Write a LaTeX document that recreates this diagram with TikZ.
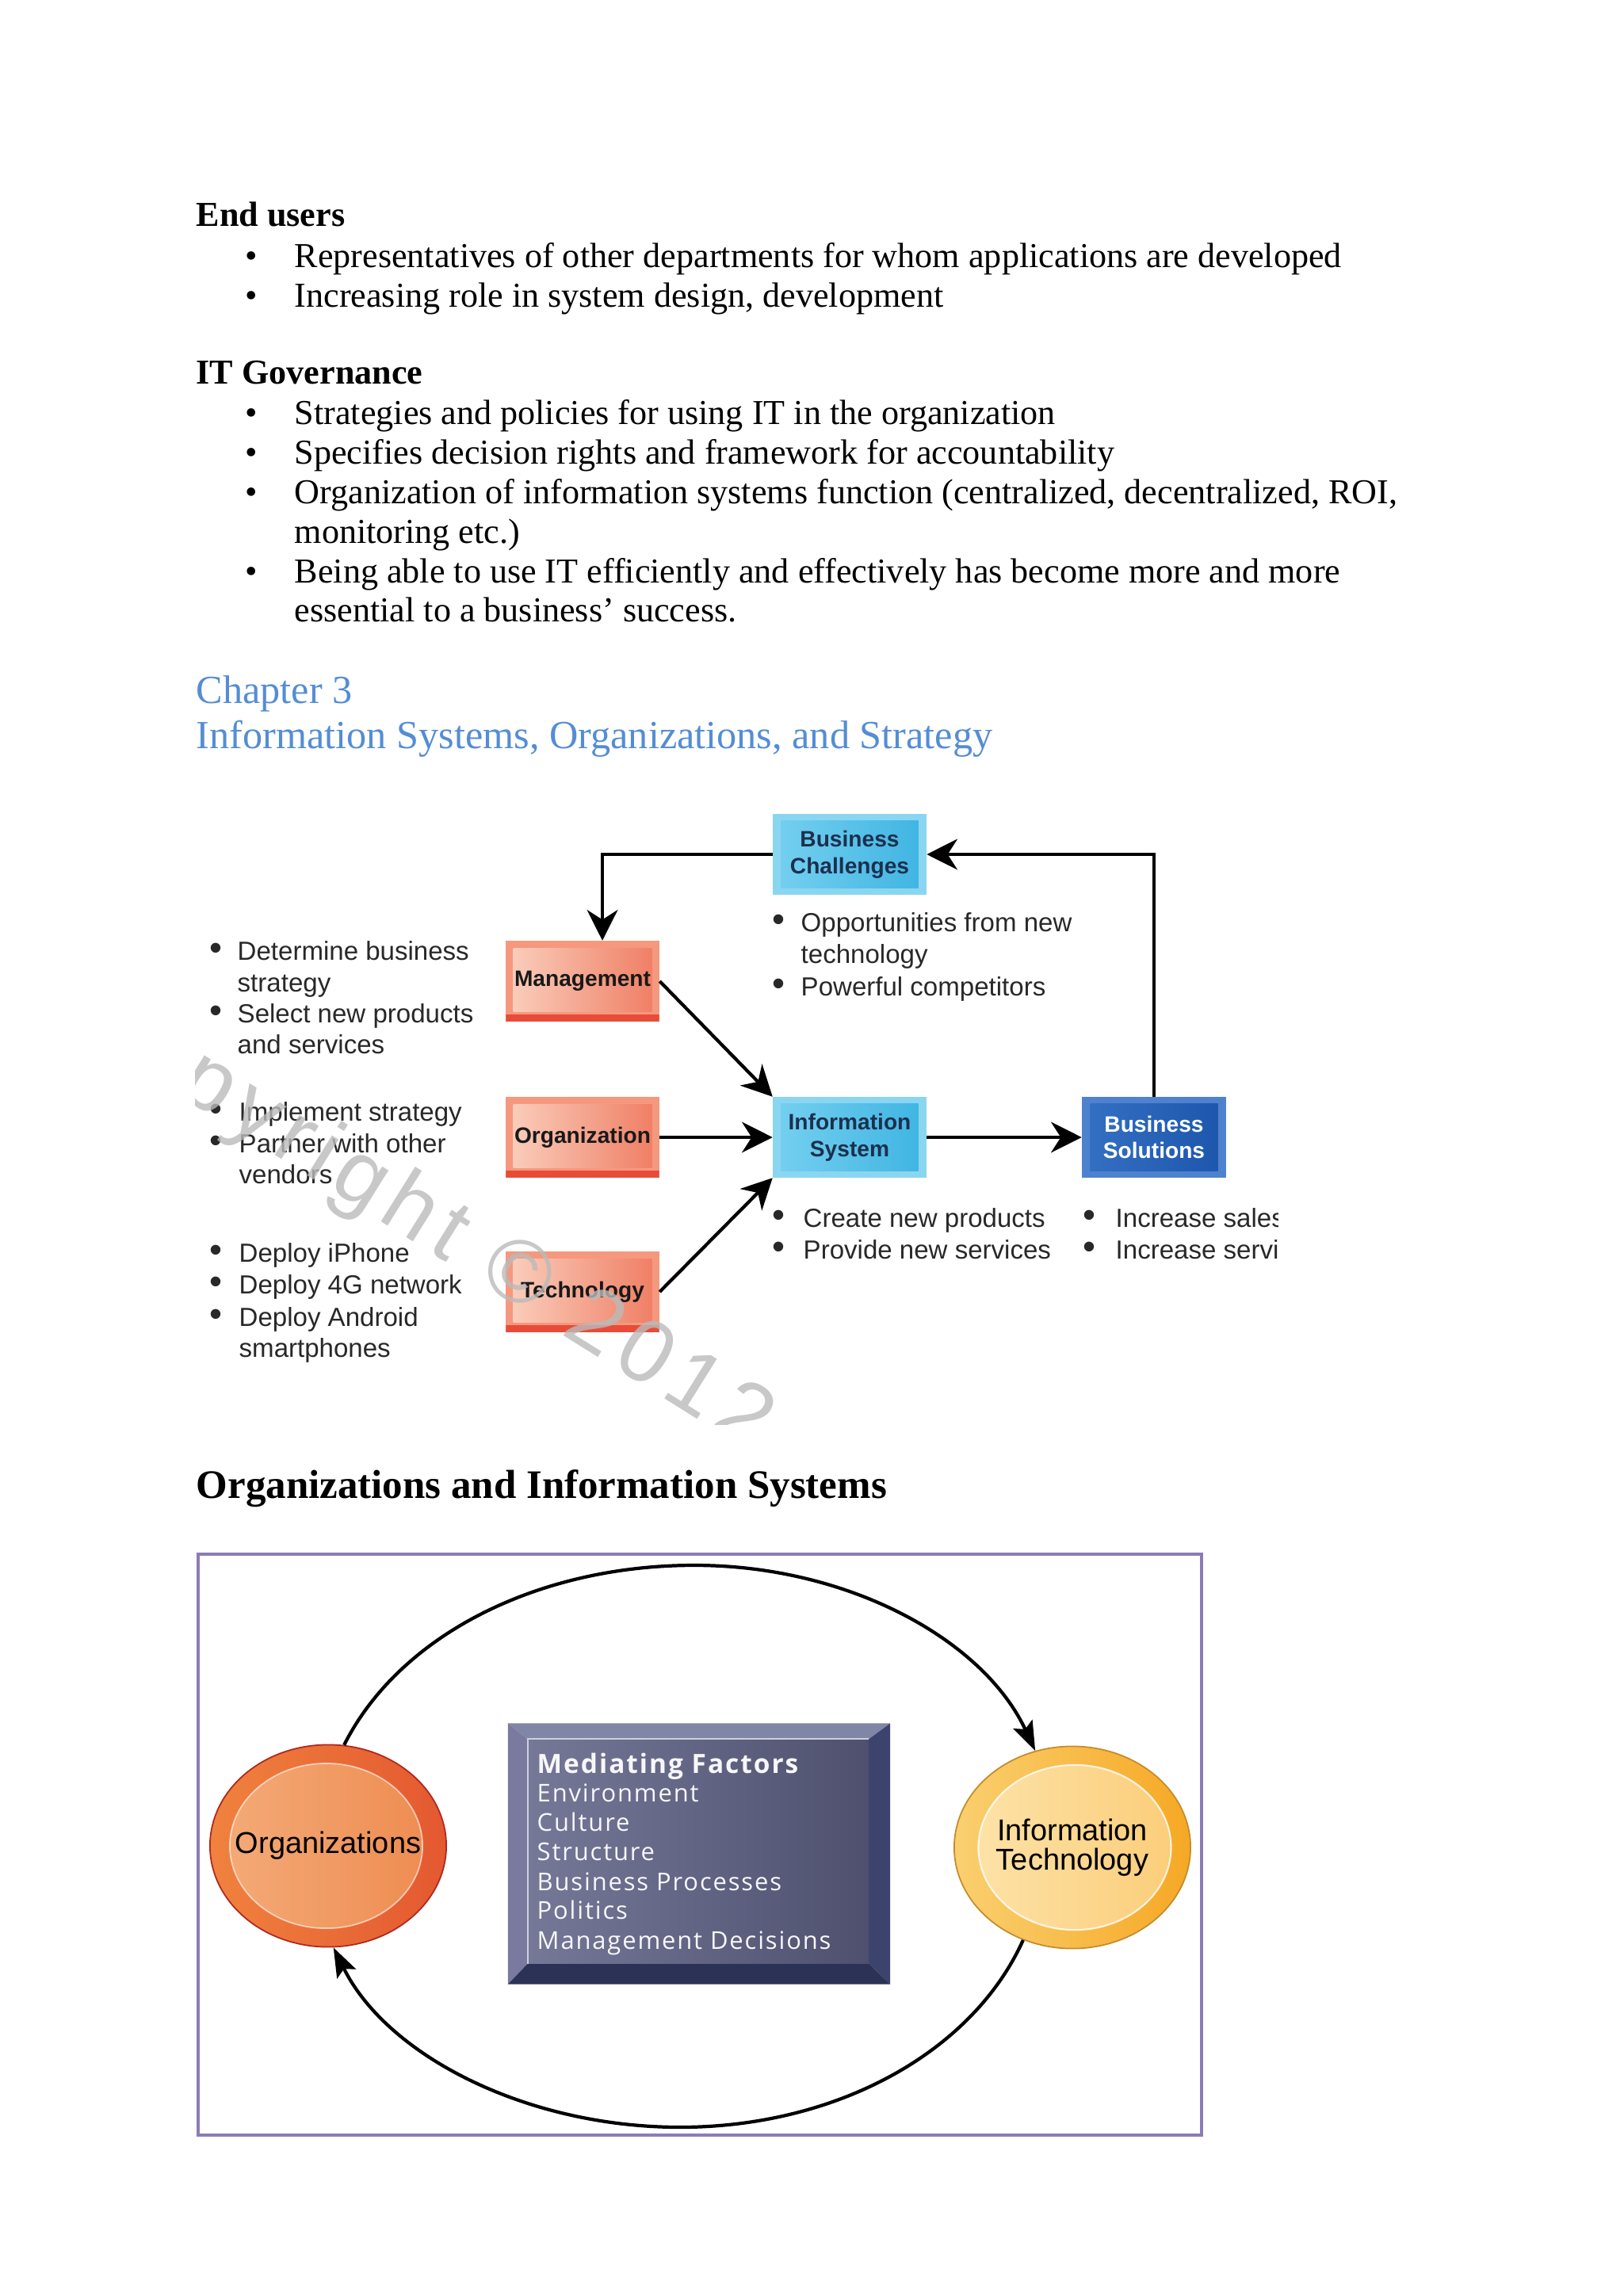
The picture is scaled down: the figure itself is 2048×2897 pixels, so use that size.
\documentclass[tikz,border=0pt]{standalone}
\usepackage{fontspec}
\setmainfont{Liberation Serif}
\setsansfont{Liberation Sans}
\newfontfamily\mffont[LetterSpace=6.0]{Open Sans}
\newfontfamily\wmfont[LetterSpace=10.0]{Liberation Sans}
\usetikzlibrary{arrows.meta,shapes.geometric}

\definecolor{chapblue}{RGB}{84,141,212}
\definecolor{framepurple}{RGB}{140,124,182}
\definecolor{listgray}{RGB}{40,40,40}
\definecolor{salrim}{RGB}{245,152,126}
\definecolor{sallt}{RGB}{250,208,190}
\definecolor{saldk}{RGB}{239,124,98}
\definecolor{salred}{RGB}{232,76,56}
\definecolor{cyrim}{RGB}{138,214,240}
\definecolor{cylt}{RGB}{118,208,240}
\definecolor{cydk}{RGB}{62,180,226}
\definecolor{cytext}{RGB}{28,48,78}
\definecolor{bsrim}{RGB}{78,130,206}
\definecolor{bslt}{RGB}{52,112,196}
\definecolor{bsdk}{RGB}{28,86,172}
\definecolor{orgoutl}{RGB}{240,130,62}
\definecolor{orgoutr}{RGB}{228,88,48}
\definecolor{orgedge}{RGB}{175,40,30}
\definecolor{orginl}{RGB}{244,172,122}
\definecolor{orginr}{RGB}{238,138,78}
\definecolor{itoutl}{RGB}{250,208,112}
\definecolor{itoutr}{RGB}{246,168,36}
\definecolor{itedge}{RGB}{196,140,44}
\definecolor{itinl}{RGB}{253,228,172}
\definecolor{itinr}{RGB}{251,204,118}
\definecolor{mftop}{RGB}{128,134,166}
\definecolor{mfleft}{RGB}{122,122,160}
\definecolor{mfright}{RGB}{60,68,110}
\definecolor{mfbot}{RGB}{44,50,86}
\definecolor{mffacel}{RGB}{118,120,152}
\definecolor{mffacer}{RGB}{78,80,110}

\newcommand\ppb{path picture bounding box}

\tikzset{
  txt/.style={anchor=mid west, inner sep=0pt, font=\fontsize{12.55}{14}\selectfont},
  hd/.style={txt, font=\bfseries\fontsize{12.55}{14}\selectfont},
  dot/.style={anchor=mid, inner sep=0pt, font=\fontsize{12.55}{14}\selectfont},
  chap/.style={txt, text=chapblue, font=\fontsize{14.3}{16}\selectfont},
  item/.style={anchor=mid west, inner sep=0pt, text=listgray, font=\sffamily\fontsize{9.4}{11.6}\selectfont},
  idot/.style={anchor=mid, inner sep=0pt, text=listgray, font=\sffamily\fontsize{13}{13}\selectfont},
  box/.style={rectangle, inner sep=0pt, minimum width=1.93cm, minimum height=1.01cm,
    align=center, font=\sffamily\bfseries\fontsize{8}{9.6}\selectfont},
  salbox/.style={box, fill=salrim, text=black!90, path picture={
    \shade[left color=sallt, right color=saldk] ([shift={(2.6pt,3.4pt)}]\ppb.south west)
      rectangle ([shift={(-2.6pt,-2.6pt)}]\ppb.north east);
    \fill[salred] (\ppb.south west) rectangle ([yshift=2.4pt]\ppb.south east);}},
  cybox/.style={box, fill=cyrim, text=cytext, path picture={
    \shade[left color=cylt, right color=cydk] ([shift={(2.8pt,2.4pt)}]\ppb.south west)
      rectangle ([shift={(-2.8pt,-2.4pt)}]\ppb.north east);}},
  bsbox/.style={box, fill=bsrim, text=white, path picture={
    \shade[left color=bslt, right color=bsdk] ([shift={(2.8pt,2.4pt)}]\ppb.south west)
      rectangle ([shift={(-2.8pt,-2.4pt)}]\ppb.north east);}},
  arr/.style={line width=1.2pt, -{Stealth[length=11pt, width=11pt, inset=3.5pt]}},
  wmark/.style={inner sep=0pt, text=black!27, opacity=0.8, font=\wmfont\fontsize{32}{34}\selectfont},
  frame/.style={draw=framepurple, line width=1.4pt},
  circ/.style={ellipse, inner sep=0pt, minimum width=2.98cm, minimum height=2.55cm, line width=0.5pt},
  circtxt/.style={inner sep=0pt, align=center, font=\sffamily\fontsize{10.8}{10.6}\selectfont},
  orgcirc/.style={circ, draw=orgedge, left color=orgoutl, right color=orgoutr, path picture={
    \shade[left color=orginl, right color=orginr] ([xshift=-0.025cm]\ppb.center) ellipse [x radius=1.215cm, y radius=1.04cm];
    \draw[white, opacity=0.6, line width=0.5pt] ([xshift=-0.025cm]\ppb.center) ellipse [x radius=1.215cm, y radius=1.04cm];}},
  itcirc/.style={circ, draw=itedge, left color=itoutl, right color=itoutr, path picture={
    \shade[left color=itinl, right color=itinr] ([xshift=0.03cm]\ppb.center) ellipse [x radius=1.215cm, y radius=1.04cm];
    \draw[white, opacity=0.8, line width=0.6pt] ([xshift=0.03cm]\ppb.center) ellipse [x radius=1.215cm, y radius=1.04cm];}},
  mfbox/.style={rectangle, inner sep=0pt, minimum width=4.82cm, minimum height=3.29cm, path picture={
    \fill[mftop] (\ppb.north west) -- (\ppb.north east) -- ([shift={(-0.27cm,-0.2cm)}]\ppb.north east)
      -- ([shift={(0.25cm,-0.2cm)}]\ppb.north west) -- cycle;
    \fill[mfleft] (\ppb.north west) -- ([shift={(0.25cm,-0.2cm)}]\ppb.north west)
      -- ([shift={(0.25cm,0.26cm)}]\ppb.south west) -- (\ppb.south west) -- cycle;
    \fill[mfright] (\ppb.north east) -- (\ppb.south east) -- ([shift={(-0.27cm,0.26cm)}]\ppb.south east)
      -- ([shift={(-0.27cm,-0.2cm)}]\ppb.north east) -- cycle;
    \fill[mfbot] (\ppb.south west) -- ([shift={(0.25cm,0.26cm)}]\ppb.south west)
      -- ([shift={(-0.27cm,0.26cm)}]\ppb.south east) -- (\ppb.south east) -- cycle;
    \shade[left color=mffacel, right color=mffacer] ([shift={(0.25cm,0.26cm)}]\ppb.south west)
      rectangle ([shift={(-0.27cm,-0.2cm)}]\ppb.north east);
    \draw[white!65!mffacel, line width=0.6pt] ([shift={(0.25cm,0.26cm)}]\ppb.south west)
      |- ([shift={(-0.27cm,-0.2cm)}]\ppb.north east);}},
  mftxt/.style={anchor=mid west, inner sep=0pt, text=white!94!mffacel, font=\mffont\fontsize{8.8}{10}\selectfont},
  loop/.style={line width=1.2pt, -{Stealth[length=10.5pt, width=7.5pt, inset=2pt]}}
}

\begin{document}
\begin{tikzpicture}[x=0.01cm, y=-0.01cm]
\useasboundingbox (0,0) rectangle (2048,2897);

% text part
\node[hd] (endusers) at (247,277) {End users};
\node[dot] (b1) at (317,329) {•};
\node[txt] (t1) at (371,329) {Representatives of other departments for whom applications are developed};
\node[dot] (b2) at (317,379) {•};
\node[txt] (t2) at (371,379) {Increasing role in system design, development};

\node[hd] (itgov) at (247,476) {IT Governance};
\node[dot] (b3) at (317,527) {•};
\node[txt] (t3) at (371,527) {Strategies and policies for using IT in the organization};
\node[dot] (b4) at (317,577) {•};
\node[txt] (t4) at (371,577) {Specifies decision rights and framework for accountability};
\node[dot] (b5) at (317,627) {•};
\node[txt] (t5) at (371,627) {Organization of information systems function (centralized, decentralized, ROI,};
\node[txt] (t5b) at (371,677) {monitoring etc.)};
\node[dot] (b6) at (317,727) {•};
\node[txt] (t6) at (371,727) {Being able to use IT efficiently and effectively has become more and more};
\node[txt] (t6b) at (371,776) {essential to a business’ success.};

\node[chap] (chap) at (247,879) {Chapter 3};
\node[chap] (chaptitle) at (247,936) {Information Systems, Organizations, and Strategy};

% first figure
\begin{scope}
\clip (246,1005) rectangle (1612,1797);
\node[cybox] (bc) at (1072,1078) {Business\\Challenges};
\node[salbox] (mgmt) at (735,1238) {Management};
\node[salbox] (orga) at (735,1435) {Organization};
\node[salbox] (tech) at (735,1630) {Technology};
\node[cybox] (is) at (1072,1435) {Information\\System};
\node[bsbox, minimum width=1.81cm] (bs) at (1456,1435) {Business\\Solutions};

\draw[arr] (bc.west) -| ([xshift=0.25cm]mgmt.north);
\draw[arr] (bs.north) |- (bc.east);
\draw[arr] (mgmt.east) -- (is.north west);
\draw[arr] (orga.east) -- (is.west);
\draw[arr] (tech.east) -- (is.south west);
\draw[arr] (is.east) -- (bs.west);

\foreach \n/\x/\y in {d1/272/1203, d2/272/1282, d3/272/1406, d4/272/1446, d5/272/1584,
  d6/272/1624, d7/272/1665, d8/982/1167, d9/982/1248, d10/982/1540, d11/982/1580,
  d12/1374/1540, d13/1374/1580}
  \node[idot] (\n) at (\x,\y) {•};
\foreach \n/\x/\y/\t in {l1/299/1203/Determine business, l2/299/1243/strategy,
  l3/299/1282/Select new products, l4/299/1321/and services,
  l5/301/1406/Implement strategy, l6/301/1446/Partner with other, l7/301/1485/vendors,
  l8/301/1584/Deploy iPhone, l9/301/1624/Deploy 4G network, l10/301/1665/Deploy Android,
  l11/301/1704/smartphones,
  l12/1010/1167/Opportunities from new, l13/1010/1207/technology, l14/1010/1248/Powerful competitors,
  l15/1013/1540/Create new products, l16/1013/1580/Provide new services,
  l17/1407/1540/Increase sales, l18/1407/1580/Increase services}
  \node[item] (\n) at (\x,\y) {\t};

\node[wmark, rotate=-32] (wm) at (529,1537) {Copyright © 2012};
\end{scope}

% second figure
\node[hd, font=\bfseries\fontsize{14.5}{16}\selectfont] (orgis) at (247,1882) {Organizations and Information Systems};
\draw[frame] (250,1961) rectangle (1516,2694);

\node[orgcirc] (org) at (414,2329) {};
\node[circtxt] (orgtxt) at (org) {Organizations};
\node[itcirc] (it) at (1353,2331) {};
\node[circtxt] (ittxt) at (it) {Information\\Technology};
\node[mfbox] (mf) at (882,2339) {};

\foreach \n/\y/\t in {mf1/2265/Environment, mf2/2302/Culture, mf3/2339/Structure,
  mf4/2377/Business Processes, mf5/2413/Politics, mf6/2451/Management Decisions}
  \node[mftxt] (\n) at (677,\y) {\t};
\node[mftxt, font=\mffont\bfseries\fontsize{9.5}{11}\selectfont] (mf0) at (677,2229) {Mediating Factors};

\coordinate (looptop) at (876,1975);
\coordinate (loopbot) at (858,2684);
\draw[loop] (org.81) .. controls +(70,-139) and +(-197,0) .. (looptop)
  .. controls +(193,0) and +(-66,-141) .. (it.111);
\draw[loop] (it.242) .. controls +(-64,142) and +(197,0) .. (loopbot)
  .. controls +(-193,0) and +(68,137) .. (org.273);
\end{tikzpicture}
\end{document}
